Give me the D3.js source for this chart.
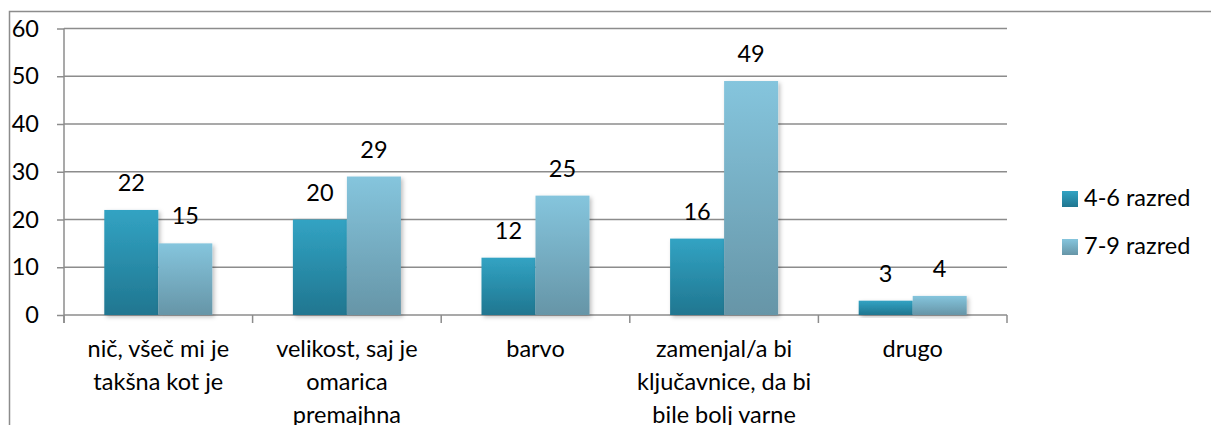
<!DOCTYPE html>
<html><head><meta charset="utf-8">
<script src="https://cdn.jsdelivr.net/npm/d3@7"></script>
<style>
html,body{margin:0;padding:0;background:#fff;}
svg{display:block;font-family:Lato, "Open Sans", sans-serif;}
</style></head>
<body>
<svg id="chart" width="1211" height="425"></svg>
<script>
const categories = ["nič, všeč mi je\ntakšna kot je", "velikost, saj je\nomarica\npremajhna", "barvo", "zamenjal/a bi\nključavnice, da bi\nbile bolj varne", "drugo"];
const seriesNames = ["4-6 razred", "7-9 razred"];
const series1 = [22, 20, 12, 16, 3];
const series2 = [15, 29, 25, 49, 4];
const yTicks = [0, 10, 20, 30, 40, 50, 60];

const svg = d3.select("#chart");
const W = 1211, H = 425;
const mLeft = 64, mRight = 1007, mTop = 28.5, mBottom = 315;
const fontSize = 23.5;

// gradients
const defs = svg.append("defs");
const grads = [["g1", "#32a3c3", "#207690"], ["g2", "#85c5dd", "#6695a7"]];
grads.forEach(([id, c1, c2]) => {
  const g = defs.append("linearGradient").attr("id", id).attr("x1", 0).attr("y1", 0).attr("x2", 0).attr("y2", 1);
  g.append("stop").attr("offset", "0%").attr("stop-color", c1);
  g.append("stop").attr("offset", "100%").attr("stop-color", c2);
});
const f = defs.append("filter").attr("id", "shadow").attr("x", "-20%").attr("y", "-20%").attr("width", "140%").attr("height", "140%");
f.append("feDropShadow").attr("dx", 2).attr("dy", 2).attr("stdDeviation", 2).attr("flood-color", "#000").attr("flood-opacity", 0.25);

// outer border
svg.append("rect").attr("x", 9.5).attr("y", 11.5).attr("width", W + 20).attr("height", H + 20)
  .attr("fill", "none").attr("stroke", "#8c8c8c").attr("stroke-width", 1.5);

const y = d3.scaleLinear().domain([0, 60]).range([mBottom, mTop]);
const x0 = d3.scaleBand().domain(categories).range([mLeft, mRight]).paddingInner(0).paddingOuter(0);
const x1 = d3.scaleBand().domain([0, 1]).range([0, x0.bandwidth()]).paddingInner(0).paddingOuter(0.746);

// gridlines
svg.append("g").selectAll("line").data(yTicks.filter(d => d > 0)).join("line")
  .attr("x1", mLeft).attr("x2", mRight).attr("y1", d => y(d)).attr("y2", d => y(d))
  .attr("stroke", "#8c8c8c").attr("stroke-width", 1.5);

// y axis
const yAxis = svg.append("g").attr("transform", `translate(${mLeft},0)`)
  .call(d3.axisLeft(y).tickValues(yTicks).tickSize(7).tickPadding(18));
yAxis.select(".domain").attr("stroke", "#8c8c8c").attr("stroke-width", 1.5).attr("d", `M0,${mTop}V${mBottom + 8}`);
yAxis.selectAll(".tick line").attr("stroke", "#8c8c8c").attr("stroke-width", 1.5);
yAxis.selectAll(".tick text").attr("font-size", fontSize).attr("fill", "#000").attr("font-family", "Lato");

// x axis line and boundary ticks
svg.append("line").attr("x1", mLeft).attr("x2", mRight).attr("y1", mBottom).attr("y2", mBottom)
  .attr("stroke", "#8c8c8c").attr("stroke-width", 1.5);
const bounds = categories.map(c => x0(c)).concat([mRight]);
svg.append("g").selectAll("line").data(bounds).join("line")
  .attr("x1", d => d).attr("x2", d => d).attr("y1", mBottom).attr("y2", mBottom + 8)
  .attr("stroke", "#8c8c8c").attr("stroke-width", 1.5);

// bars
const data = categories.map((c, i) => ({c, vals: [series1[i], series2[i]]}));
const groups = svg.append("g").selectAll("g").data(data).join("g")
  .attr("transform", d => `translate(${x0(d.c)},0)`);
groups.selectAll("rect").data(d => d.vals.map((v, k) => ({v, k}))).join("rect")
  .attr("x", d => x1(d.k)).attr("width", x1.bandwidth())
  .attr("y", d => y(d.v)).attr("height", d => mBottom - y(d.v))
  .attr("fill", d => `url(#g${d.k + 1})`).attr("filter", "url(#shadow)");
groups.selectAll("text.val").data(d => d.vals.map((v, k) => ({v, k}))).join("text").attr("class", "val")
  .attr("x", d => x1(d.k) + x1.bandwidth() / 2).attr("y", d => y(d.v) - 19)
  .attr("text-anchor", "middle").attr("font-size", fontSize).attr("fill", "#000").text(d => d.v);

// category labels
groups.each(function(d) {
  const lines = d.c.split("\n");
  const t = d3.select(this).append("text").attr("text-anchor", "middle").attr("font-size", fontSize).attr("fill", "#000");
  lines.forEach((ln, i) => {
    t.append("tspan").attr("x", x0.bandwidth() / 2).attr("y", 357 + i * 33).text(ln);
  });
});

// legend
const leg = svg.append("g").selectAll("g").data(seriesNames).join("g")
  .attr("transform", (d, i) => `translate(1062,${191 + i * 48})`);
leg.append("rect").attr("width", 16).attr("height", 16).attr("fill", (d, i) => `url(#g${i + 1})`);
leg.append("text").attr("x", 22).attr("y", 15).attr("font-size", fontSize).attr("fill", "#000").text(d => d);
</script>
</body></html>
